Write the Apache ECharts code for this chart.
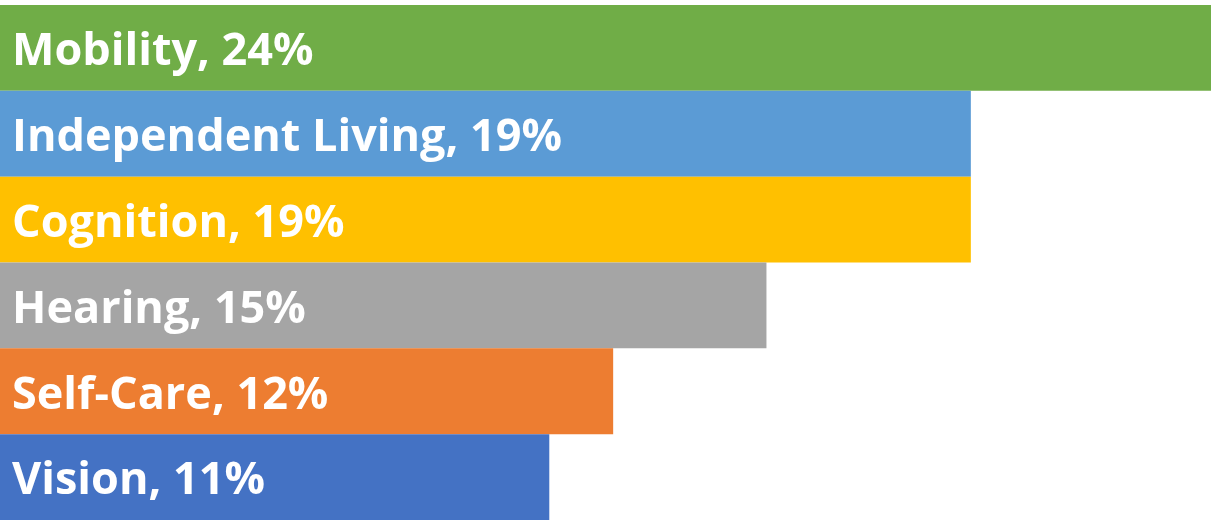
<!DOCTYPE html>
<html><head><meta charset="utf-8">
<script src="https://cdn.jsdelivr.net/npm/echarts@6/dist/echarts.min.js"></script>
<style>html,body{margin:0;padding:0;background:#fff}#c{width:1211px;height:520px}</style>
</head><body><div id="c"></div>
<script>
const categories = ["Mobility", "Independent Living", "Cognition", "Hearing", "Self-Care", "Vision"];
const values = [24, 19, 19, 15, 12, 10.75];
const colors = ["#70AD47", "#5B9BD5", "#FFC000", "#A5A5A5", "#ED7D31", "#4472C4"];

const chart = echarts.init(document.getElementById('c'));
chart.setOption({
  animation: false,
  grid: { left: 0, top: 5, width: 1211, height: 518.5, containLabel: false },
  xAxis: { type: 'value', min: 0, max: 23.7, show: false },
  yAxis: { type: 'category', data: categories, inverse: true, show: false },
  series: [{
    type: 'bar',
    barCategoryGap: 0,
    data: values.map((v, i) => ({ value: v, itemStyle: { color: colors[i] } })),
    label: {
      show: true,
      position: 'insideLeft',
      distance: 12,
      offset: [0, 4.5],
      color: '#fff',
      fontFamily: 'Open Sans',
      fontWeight: 'bold',
      fontSize: 45,
      formatter: p => p.name + ', ' + Math.round(p.value) + '%'
    }
  }]
});
</script></body></html>
